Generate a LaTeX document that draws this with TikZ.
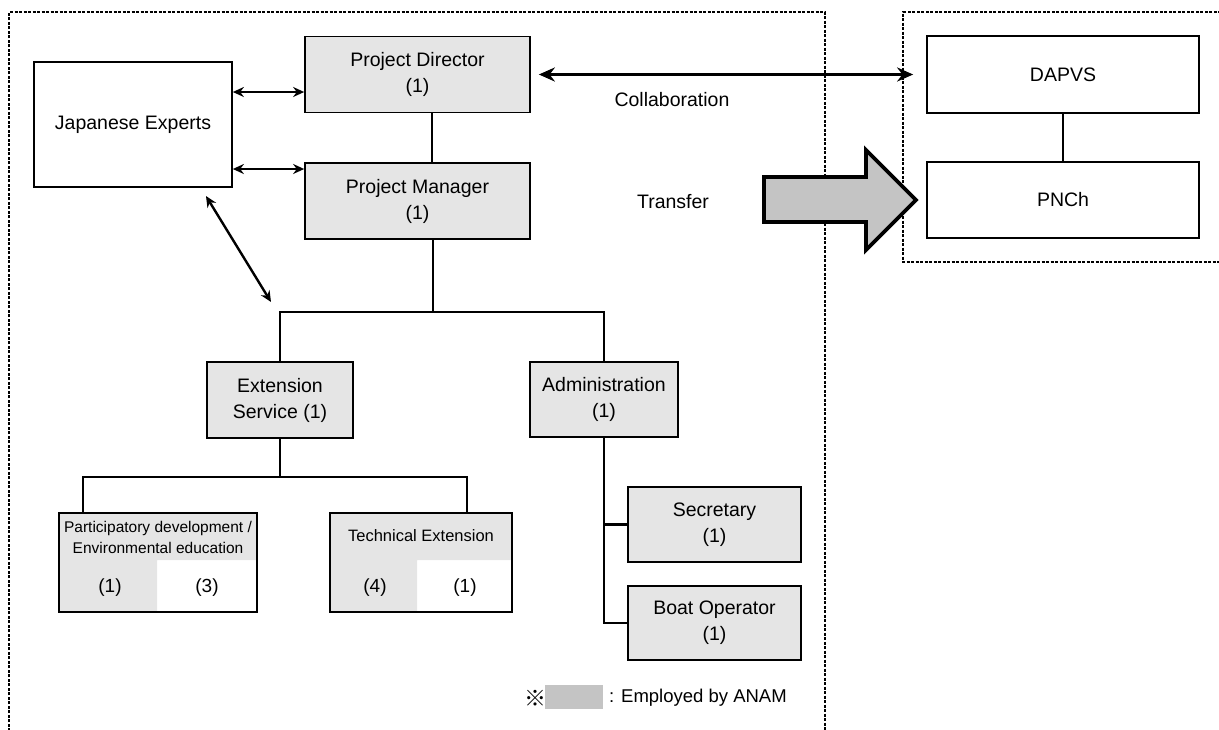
\documentclass[tikz,border=0pt]{standalone}
\usepackage{fontspec}
\setmainfont{Liberation Sans}
\newfontfamily\marksfont{Noto Sans CJK JP}
\usetikzlibrary{arrows.meta,backgrounds}

\definecolor{stip}{gray}{0.90}
\definecolor{stipdark}{gray}{0.77}

\begin{document}
\begin{tikzpicture}[x=1pt,y=-1pt,
  unitbox/.style={draw, line width=1.7pt, rectangle, inner sep=0pt, align=center,
                  font=\fontsize{19.5}{26}\selectfont},
  staffbox/.style={unitbox, fill=stip},
  conn/.style={line width=2.8pt},
  link/.style={line width=2.4pt,
               {Stealth[length=11pt,width=10pt]}-{Stealth[length=11pt,width=10pt]}},
  collab/.style={line width=3.8pt,
               {Stealth[length=16pt,width=14pt]}-{Stealth[length=16pt,width=14pt]}},
  zone/.style={line width=1.3pt, dash pattern=on 3pt off 1.5pt},
  caption/.style={inner sep=0pt, font=\fontsize{19.5}{24}\selectfont},
  smalltext/.style={inner sep=0pt, align=center, font=\fontsize{15.5}{21}\selectfont},
  count/.style={inner sep=0pt, font=\fontsize{19}{24}\selectfont},
]
\useasboundingbox (0,0) rectangle (1219,729);

% dashed organisation frames
\draw[zone] (9,740) -- (9,12) -- (825,12) -- (825,740);
\draw[zone] (1230,12) -- (903,12) -- (903,262) -- (1230,262);

% project units
\node[unitbox, minimum width=198pt, minimum height=125pt] (je) at (133,124.5) {Japanese Experts};
\node[staffbox, minimum width=225pt, minimum height=76pt] (pd) at (417.5,74.5) {Project Director\\(1)};
\node[staffbox, minimum width=225pt, minimum height=76pt] (pm) at (417.5,201) {Project Manager\\(1)};
\node[staffbox, minimum width=146pt, minimum height=76pt] (ext) at (280,400) {Extension\\Service (1)};
\node[staffbox, minimum width=148pt, minimum height=75pt] (adm) at (604,399.5) {Administration\\(1)};
\node[staffbox, minimum width=173pt, minimum height=75pt] (sec) at (714.5,524.5) {Secretary\\(1)};
\node[staffbox, minimum width=173pt, minimum height=74pt] (boat) at (714.5,623) {Boat Operator\\(1)};
\node[unitbox, minimum width=198pt, minimum height=99pt] (part) at (158,562.5) {};
\node[unitbox, minimum width=182pt, minimum height=99pt] (tech) at (421,562.5) {};

% counterpart institutions
\node[unitbox, minimum width=272pt, minimum height=77pt] (dapvs) at (1063,74.5) {DAPVS};
\node[unitbox, minimum width=272pt, minimum height=76pt] (pnch) at (1063,200) {PNCh};

% partly shaded section boxes
\begin{scope}[on background layer]
  \fill[stip] (59,513) -- (257,513) -- (257,560) -- (157,560) -- (157,612) -- (59,612) -- cycle;
  \fill[stip] (330,513) -- (512,513) -- (512,560) -- (417,560) -- (417,612) -- (330,612) -- cycle;
\end{scope}
\node[smalltext] (partname) at (158,537.5) {Participatory development /\\Environmental education};
\node[count] (partA) at (110,588) {(1)};
\node[count] (partB) at (207,588) {(3)};
\node[smalltext, font=\fontsize{16.5}{21}\selectfont] (techname) at (421,536) {Technical Extension};
\node[count] (techA) at (375,588) {(4)};
\node[count] (techB) at (465,588) {(1)};

% hierarchy lines
\draw[conn] ([xshift=14.5pt]pd.south) -- ([xshift=14.5pt]pm.north);
\coordinate (hub) at (433,312);
\draw[conn] (pm.south -| hub) -- (hub);
\draw[conn] (ext.north) |- (hub) -| (adm.north);
\coordinate (hub2) at (280,477);
\draw[conn] (ext.south) -- (hub2);
\draw[conn] ([xshift=-75pt]part.north) |- (hub2) -| ([xshift=46pt]tech.north);
\draw[conn] (adm.south) |- (boat.west);
\draw[conn] (adm.south |- sec.west) -- (sec.west);
\draw[conn] (dapvs.south) -- (pnch.north);

% advisory links
\draw[link] (je.east |- 0,92) -- (pd.west |- 0,92);
\draw[link] (je.east |- 0,169) -- (pm.west |- 0,169);
\coordinate (jefoot) at (206,196);
\coordinate (jelink) at (271,302);
\draw[link] (jefoot) -- (jelink);

% collaboration and transfer
\draw[collab] ([xshift=8pt]pd.east) -- ([xshift=-13pt]dapvs.west);
\node[caption] (collabtext) at (672,100) {Collaboration};
\node[caption] (xfertext) at (673,202) {Transfer};
\draw[line width=3.8pt, fill=stipdark, line join=miter]
  (764,177) -- (866,177) -- (866,150) -- (916,200) -- (866,250) -- (866,222) -- (764,222) -- cycle;

% legend
\node[fill=stipdark, inner sep=0pt, minimum width=58pt, minimum height=24pt] (swatch) at (574,697) {};
\node[inner sep=0pt, font=\marksfont\fontsize{22}{22}\selectfont] (mark) at (535,698) {※};
\node[anchor=west, inner sep=0pt, font=\fontsize{18.5}{22}\selectfont] (legend) at (609,698) {: Employed by ANAM};
\end{tikzpicture}
\end{document}
